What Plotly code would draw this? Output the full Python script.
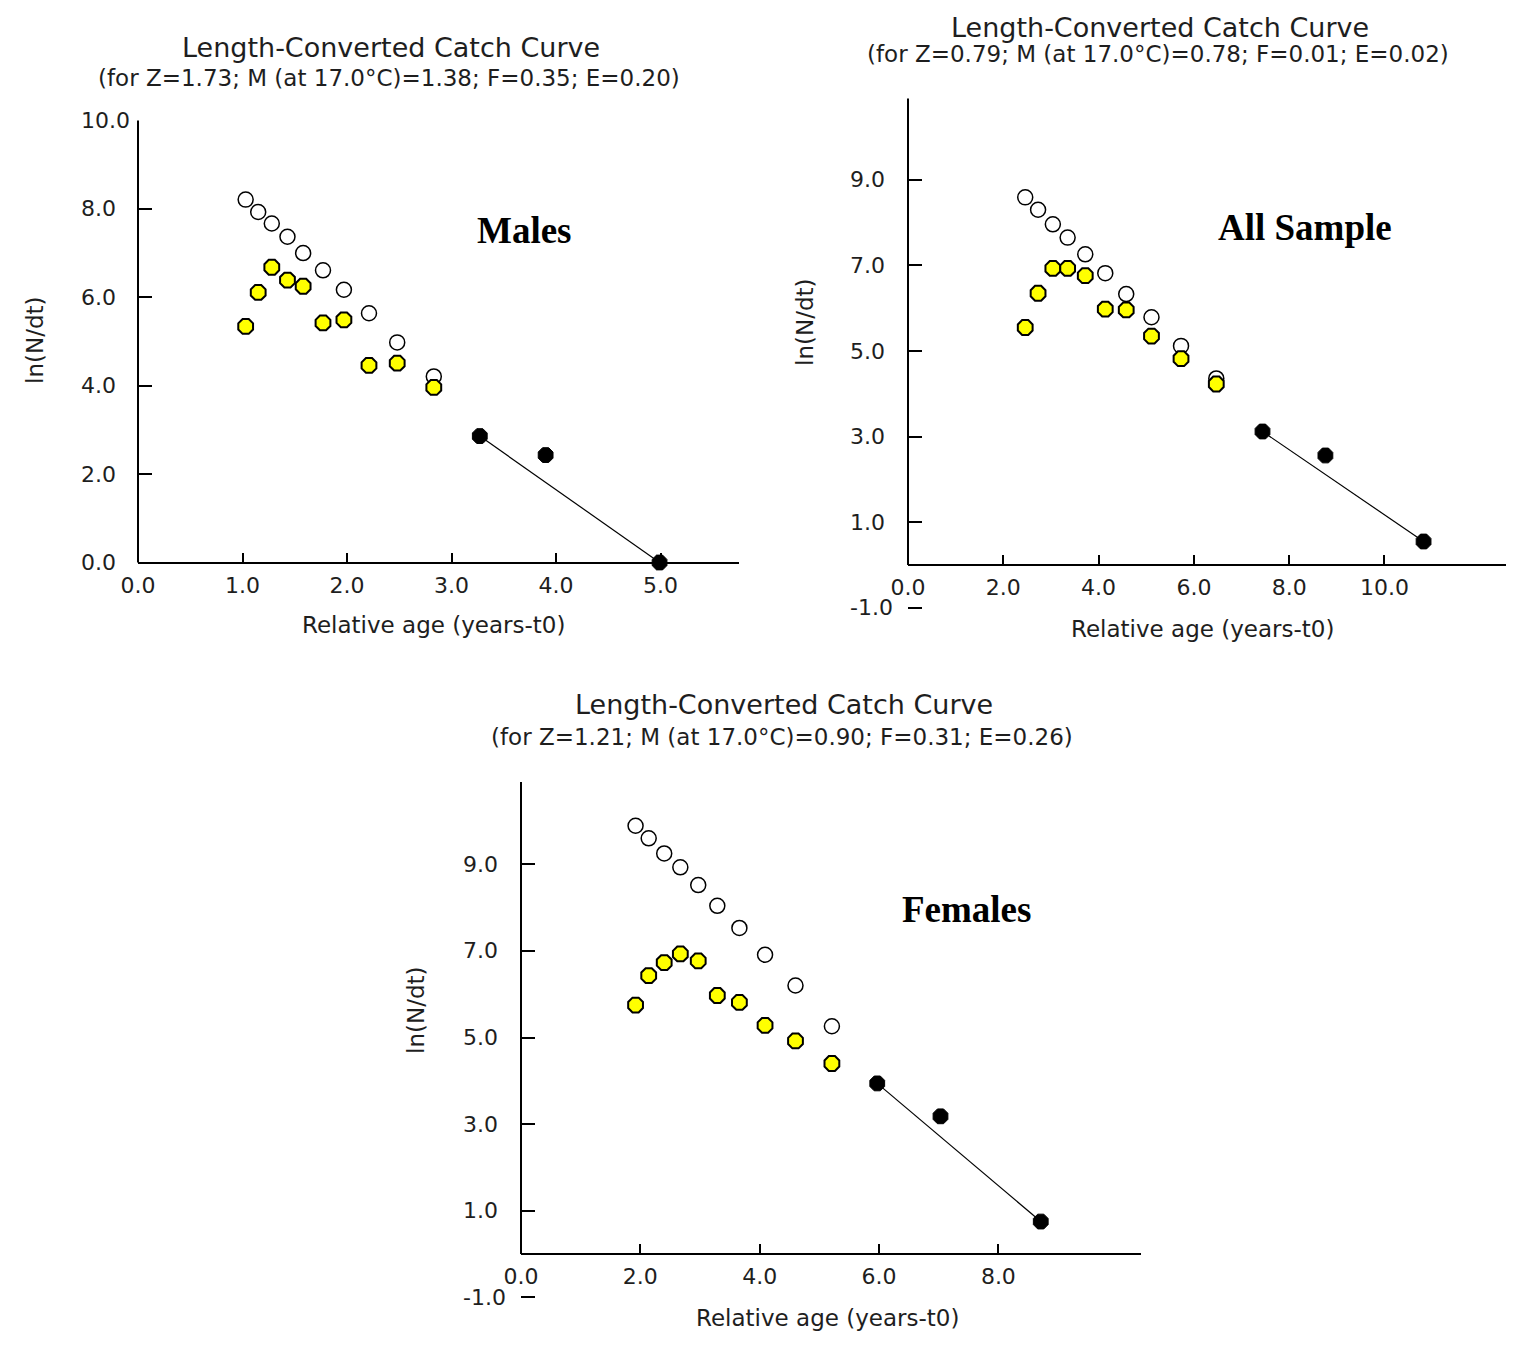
import plotly.graph_objects as go

W, H = 1535, 1347
PAGE_PAD = 8  # the browser body margin shifts the figure by this much

# ---- data ----
# Males
males_age = [1.03, 1.15, 1.28, 1.43, 1.58, 1.77, 1.97, 2.21, 2.48, 2.83]
males_open = [8.21, 7.93, 7.67, 7.37, 7.00, 6.61, 6.17, 5.64, 4.98, 4.21]
males_used = [5.34, 6.11, 6.68, 6.39, 6.25, 5.42, 5.49, 4.46, 4.51, 3.96]
males_fit_age = [3.27, 3.90, 4.99]
males_fit = [2.86, 2.43, 0.0]

# All sample
all_age = [2.46, 2.73, 3.04, 3.35, 3.72, 4.14, 4.58, 5.11, 5.73, 6.47]
all_open = [8.59, 8.30, 7.96, 7.65, 7.26, 6.82, 6.33, 5.79, 5.12, 4.36]
all_used = [5.55, 6.35, 6.93, 6.93, 6.76, 5.98, 5.96, 5.35, 4.82, 4.23]
all_fit_age = [7.44, 8.76, 10.82]
all_fit = [3.12, 2.56, 0.55]

# Females
fem_age = [1.92, 2.14, 2.40, 2.67, 2.97, 3.29, 3.66, 4.09, 4.60, 5.21]
fem_open = [9.89, 9.60, 9.25, 8.93, 8.52, 8.04, 7.53, 6.91, 6.20, 5.26]
fem_used = [5.75, 6.43, 6.73, 6.93, 6.77, 5.97, 5.81, 5.28, 4.92, 4.40]
fem_fit_age = [5.97, 7.03, 8.71]
fem_fit = [3.94, 3.18, 0.75]

# ticks
males_xticks = [0, 1, 2, 3, 4, 5]
males_yticks = [0, 2, 4, 6, 8, 10]
all_xticks = [0, 2, 4, 6, 8, 10]
all_yticks = [-1, 1, 3, 5, 7, 9]
fem_xticks = [0, 2, 4, 6, 8]
fem_yticks = [-1, 1, 3, 5, 7, 9]

TITLE = "Length-Converted Catch Curve"
males_sub = "(for Z=1.73; M (at 17.0°C)=1.38; F=0.35; E=0.20)"
all_sub = "(for Z=0.79; M (at 17.0°C)=0.78; F=0.01; E=0.02)"
fem_sub = "(for Z=1.21; M (at 17.0°C)=0.90; F=0.31; E=0.26)"

SANS = "DejaVu Sans"
SERIF = "Liberation Serif, Times New Roman, serif"
INK = "#1e1e1e"


def px(x):
    return (x - PAGE_PAD) / W


def py(y):
    return 1 - (y - PAGE_PAD) / H


panels = [
    dict(label="Males", age=males_age, open=males_open, used=males_used,
         fit_age=males_fit_age, fit=males_fit, xticks=males_xticks, yticks=males_yticks,
         sub=males_sub, box=(138, 739, 120.5, 562.5), xr=[0, 5.75], yr=[0, 10],
         ylab_x=79, title_at=(391, 48), sub_at=(389, 78), label_at=(524, 231),
         xt_at=(433, 625), yt_at=(35, 340)),
    dict(label="All Sample", age=all_age, open=all_open, used=all_used,
         fit_age=all_fit_age, fit=all_fit, xticks=all_xticks, yticks=all_yticks,
         sub=all_sub, box=(908, 1506, 98.5, 616.4), xr=[0, 12.55], yr=[-1.2, 10.9],
         ylab_x=848, title_at=(1160, 27), sub_at=(1158, 54), label_at=(1305, 227),
         xt_at=(1202, 629), yt_at=(805, 322)),
    dict(label="Females", age=fem_age, open=fem_open, used=fem_used,
         fit_age=fem_fit_age, fit=fem_fit, xticks=fem_xticks, yticks=fem_yticks,
         sub=fem_sub, box=(521, 1141, 782, 1306), xr=[0, 10.39], yr=[-1.2, 10.9],
         ylab_x=461, title_at=(784, 705), sub_at=(782, 737), label_at=(966, 910),
         xt_at=(827, 1318), yt_at=(416, 1010)),
]

fig = go.Figure()
annotations = []
shapes = []
layout = {}

for i, p in enumerate(panels, start=1):
    xa = "x" if i == 1 else f"x{i}"
    ya = "y" if i == 1 else f"y{i}"
    left, right, top, bottom = p["box"]
    xdom = [px(left), px(right)]
    ydom = [py(bottom), py(top)]
    # paper position of data y = 0 (where the x axis sits)
    y0 = ydom[0] + (0 - p["yr"][0]) / (p["yr"][1] - p["yr"][0]) * (ydom[1] - ydom[0])

    fig.add_trace(go.Scatter(x=p["age"], y=p["open"], mode="markers", xaxis=xa, yaxis=ya,
                             marker=dict(symbol="circle", size=15, color="white",
                                         line=dict(color="black", width=1.5)),
                             cliponaxis=False))
    fig.add_trace(go.Scatter(x=p["age"], y=p["used"], mode="markers", xaxis=xa, yaxis=ya,
                             marker=dict(symbol="octagon", size=16, color="#ffff00",
                                         line=dict(color="black", width=2)),
                             cliponaxis=False))
    # regression segment drawn between first and last points used in the fit
    fig.add_trace(go.Scatter(x=[p["fit_age"][0], p["fit_age"][-1]], y=[p["fit"][0], p["fit"][-1]],
                             mode="lines", xaxis=xa, yaxis=ya,
                             line=dict(color="black", width=1.2), cliponaxis=False))
    fig.add_trace(go.Scatter(x=p["fit_age"], y=p["fit"], mode="markers", xaxis=xa, yaxis=ya,
                             marker=dict(symbol="octagon", size=16, color="black",
                                         line=dict(color="black", width=1)),
                             cliponaxis=False))

    layout["xaxis" if i == 1 else f"xaxis{i}"] = dict(
        domain=xdom, range=p["xr"], anchor="free", position=y0, automargin=False,
        showline=True, linecolor="black", linewidth=2,
        ticks="inside", ticklen=9, tickwidth=2, tickcolor="black",
        tickvals=p["xticks"], ticktext=[f"{v:.1f}" for v in p["xticks"]],
        ticklabelstandoff=3,
        tickfont=dict(family=SANS, size=22, color=INK),
        showgrid=False, zeroline=False)
    layout["yaxis" if i == 1 else f"yaxis{i}"] = dict(
        domain=ydom, range=p["yr"], anchor=xa, automargin=False,
        showline=False, ticks="inside", ticklen=14, tickwidth=2, tickcolor="black",
        tickvals=p["yticks"], showticklabels=False,
        showgrid=False, zeroline=False)

    # vertical axis line, from y = 0 up to the top of the plotting area
    shapes.append(dict(type="line", xref="paper", yref="paper",
                       x0=xdom[0], x1=xdom[0], y0=y0, y1=ydom[1],
                       line=dict(color="black", width=2)))

    # y tick labels are left aligned in the original
    for v in p["yticks"]:
        annotations.append(dict(text=f"{v:.1f}", x=px(p["ylab_x"]), y=v, yref=ya,
                                xanchor="left", font=dict(family=SANS, size=22, color=INK)))

    annotations += [
        dict(text=TITLE, x=px(p["title_at"][0]), y=py(p["title_at"][1]), borderpad=0,
             font=dict(family=SANS, size=27, color=INK)),
        dict(text=p["sub"], x=px(p["sub_at"][0]), y=py(p["sub_at"][1]),
             font=dict(family=SANS, size=23, color=INK)),
        dict(text=f"<b>{p['label']}</b>", x=px(p["label_at"][0]), y=py(p["label_at"][1]),
             font=dict(family=SERIF, size=37, color="black")),
        dict(text="Relative age (years-t0)", x=px(p["xt_at"][0]), y=py(p["xt_at"][1]),
             font=dict(family=SANS, size=23, color=INK)),
        dict(text="ln(N/dt)", x=px(p["yt_at"][0]), y=py(p["yt_at"][1]), textangle=-90,
             font=dict(family=SANS, size=23, color=INK)),
    ]

for a in annotations:
    a.setdefault("xanchor", "center")
    a.setdefault("yref", "paper")
    a.update(xref="paper", showarrow=False, yanchor="middle")

fig.update_layout(
    width=W, height=H,
    margin=dict(l=0, r=0, t=0, b=0),
    paper_bgcolor="white", plot_bgcolor="white",
    showlegend=False,
    annotations=annotations,
    shapes=shapes,
    **layout,
)

fig.write_html("out.html")
